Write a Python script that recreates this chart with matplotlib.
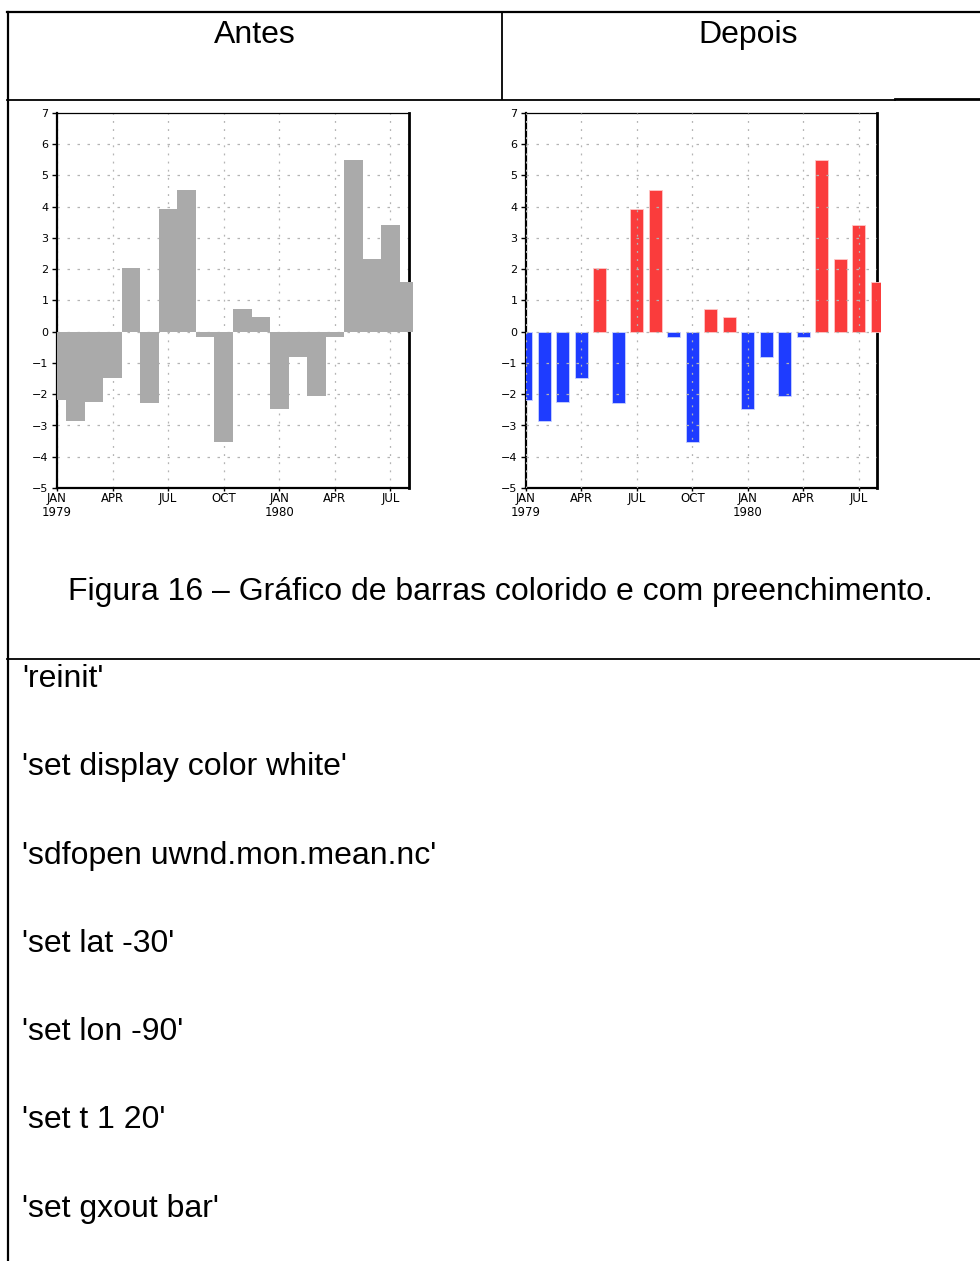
import matplotlib
matplotlib.use("Agg")
import matplotlib.pyplot as plt
from matplotlib.patches import Rectangle
import numpy as np

# Dados (set t 1 20 -> JAN 1979 ... AGO 1980)
tempo = np.arange(1, 21)
valores = [-2.2, -2.85, -2.25, -1.47, 2.05, -2.28, 3.92, 4.54, -0.18, -3.52,
           0.72, 0.48, -2.46, -0.8, -2.05, -0.18, 5.5, 2.32, 3.4, 1.6]
pos_ticks = [1, 4, 7, 10, 13, 16, 19]
rot_ticks = ["JAN\n1979", "APR", "JUL", "OCT", "JAN\n1980", "APR", "JUL"]
y_ticks = list(range(-5, 8))

cabecalho = ["Antes", "Depois"]
legenda = "Figura 16 – Gráfico de barras colorido e com preenchimento."
linhas_codigo = ["'reinit'", "'set display color white'", "'sdfopen uwnd.mon.mean.nc'",
                 "'set lat -30'", "'set lon -90'", "'set t 1 20'", "'set gxout bar'"]

W, H = 980, 1261
fig = plt.figure(figsize=(W / 100, H / 100), dpi=100)

# Fundo: tabela e textos em coordenadas de pixel
fundo = fig.add_axes([0, 0, 1, 1])
fundo.set_xlim(0, W)
fundo.set_ylim(H, 0)
fundo.axis("off")
fonte = "Liberation Sans"

fundo.plot([7, 980], [12, 12], color="black", lw=1.6)
fundo.plot([8, 8], [12, H], color="black", lw=1.6)
fundo.plot([502, 502], [12, 99], color="black", lw=1.3)
fundo.plot([7, 895], [99.5, 99.5], color="black", lw=1.3)
fundo.plot([895, 980], [99, 99], color="black", lw=2.0)
fundo.plot([7, 980], [659, 659], color="black", lw=1.3)

fundo.text(255, 43, cabecalho[0], fontsize=23, family=fonte, ha="center", va="baseline")
fundo.text(748, 43, cabecalho[1], fontsize=23, family=fonte, ha="center", va="baseline")
fundo.text(500, 600, legenda, fontsize=23, family=fonte, ha="center", va="baseline")
for i, linha in enumerate(linhas_codigo):
    fundo.text(22, 687 + i * 88.3, linha, fontsize=23, family=fonte, ha="left", va="baseline")


def eixo(x0, x1, y0=113, y1=488):
    return fig.add_axes([x0 / W, 1 - y1 / H, (x1 - x0) / W, (y1 - y0) / H])


def estilo(ax, grade_z):
    ax.set_xlim(1, 20)
    ax.set_ylim(-5, 7)
    ax.set_yticks(y_ticks)
    ax.set_xticks(pos_ticks)
    ax.set_xticklabels(rot_ticks, linespacing=1.1)
    ax.tick_params(axis="y", direction="out", length=3.5, width=1, pad=2.5, labelsize=8)
    ax.tick_params(axis="x", direction="out", length=2.2, width=1, pad=0.5, labelsize=8.5)
    for t in pos_ticks:
        ax.axvline(t, color="#b4b4b4", lw=0.9, ls=(0, (1.5, 5)), zorder=grade_z)
    for v in y_ticks[1:-1]:
        ax.axhline(v, color="#b4b4b4", lw=0.9, ls=(0, (2, 6)), zorder=grade_z)
    ax.spines["left"].set_linewidth(1.6)
    ax.spines["right"].set_linewidth(2.0)
    ax.spines["bottom"].set_linewidth(1.6)
    ax.spines["top"].set_linewidth(0.9)
    ax.patch.set_alpha(0)


def recorte(ax, barras):
    # o GrADS deixa a última barra passar um pouco da borda direita
    clip = Rectangle((0, 0), 1.01, 1, transform=ax.transAxes)
    for b in barras:
        b.set_clip_path(clip)


# Antes: barras cinza sem espaçamento
ax1 = eixo(57, 409)
b1 = ax1.bar(tempo, valores, width=1.0, color="#aaaaaa", zorder=3)
estilo(ax1, 0.5)
recorte(ax1, b1)

# Depois: barras coloridas (positivo vermelho, negativo azul)
ax2 = eixo(526, 877)
cores = ["#fa3c3c" if v > 0 else "#1e3cff" for v in valores]
bordas = ["#ffc8c8" if v > 0 else "#c8d2ff" for v in valores]
b2 = ax2.bar(tempo, valores, width=0.7, color=cores, edgecolor=bordas, linewidth=0.6, zorder=3)
estilo(ax2, 4)
recorte(ax2, b2)

fig.savefig("out.png", dpi=100)
